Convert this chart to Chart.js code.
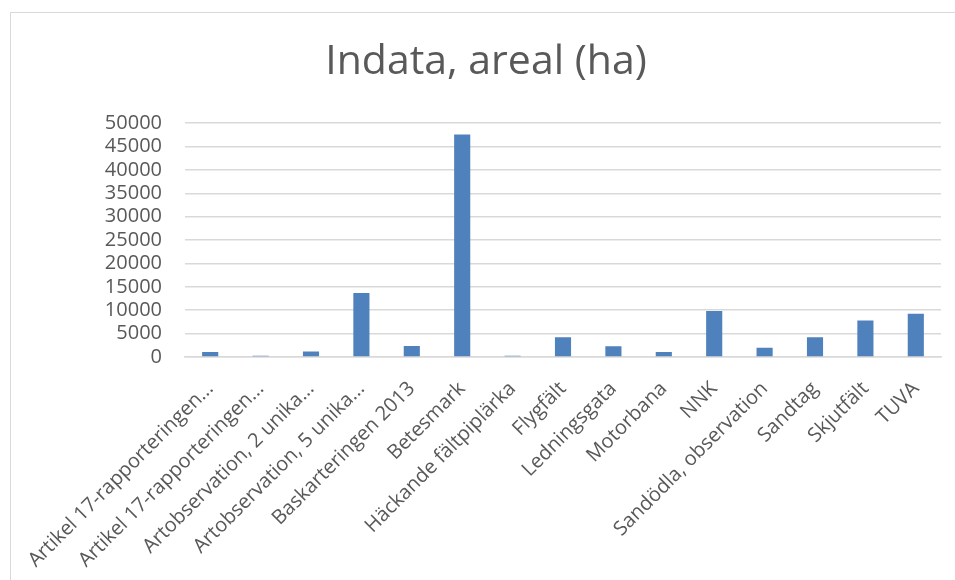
<!DOCTYPE html>
<html>
<head>
<meta charset="utf-8">
<script src="https://cdn.jsdelivr.net/npm/chart.js@4"></script>
<style>
  html, body { margin: 0; padding: 0; background: #fff; overflow: hidden; }
  #wrap { position: relative; width: 955px; height: 580px; }
  #frame { position: absolute; left: 10px; top: 12px; width: 980px; height: 620px; border: 1.5px solid #d9d9d9; }
  canvas { position: absolute; left: 0; top: 0; }
</style>
</head>
<body>
<div id="wrap">
  <div id="frame"></div>
  <canvas id="myChart" width="955" height="580"></canvas>
</div>
<script>
const labels = [
  'Artikel 17-rapporteringen...',
  'Artikel 17-rapporteringen...',
  'Artobservation, 2 unika...',
  'Artobservation, 5 unika...',
  'Baskarteringen 2013',
  'Betesmark',
  'Häckande fältpiplärka',
  'Flygfält',
  'Ledningsgata',
  'Motorbana',
  'NNK',
  'Sandödla, observation',
  'Sandtag',
  'Skjutfält',
  'TUVA'
];

const areal = [1050, 250, 1200, 13700, 2350, 47600, 250, 4250, 2300, 1050, 9850, 2000, 4250, 7800, 9250];

const yTicks = [0, 5000, 10000, 15000, 20000, 25000, 30000, 35000, 40000, 45000, 50000];

const font = "'Open Sans', 'DejaVu Sans', sans-serif";

const data = {
  labels: labels,
  datasets: [
    {
      label: 'Indata, areal (ha)',
      data: areal,
      backgroundColor: '#4f81bd',
      borderWidth: 0,
      barPercentage: 0.32,
      categoryPercentage: 1
    }
  ]
};

const config = {
  type: 'bar',
  data: data,
  options: {
    responsive: false,
    animation: false,
    // left padding pushes the title centre to the right like the original
    layout: { padding: { left: 31, right: 14, top: 0, bottom: 0 } },
    plugins: {
      legend: { display: false },
      tooltip: { enabled: false },
      title: {
        display: true,
        text: 'Indata, areal (ha)',
        color: '#595959',
        font: { family: font, size: 41, weight: 'normal' },
        padding: { top: 38, bottom: 36 }
      }
    },
    scales: {
      x: {
        grid: { display: false, drawTicks: false },
        border: { display: true, color: '#d9d9d9', width: 1.5 },
        ticks: {
          color: '#595959',
          font: { family: font, size: 20 },
          minRotation: 45,
          maxRotation: 45,
          autoSkip: false,
          padding: 20
        },
        afterFit: (scale) => {
          scale.height = 580 - 357;
          scale.paddingLeft = 0;
          scale.paddingRight = 0;
        }
      },
      y: {
        min: 0,
        max: 50000,
        afterBuildTicks: (scale) => {
          scale.ticks = yTicks.map(v => ({ value: v }));
        },
        grid: { color: '#d9d9d9', lineWidth: 1.5, drawTicks: false },
        border: { display: false },
        ticks: {
          color: '#595959',
          font: { family: font, size: 20 },
          padding: 23,
          autoSkip: false,
          callback: (v) => String(v)
        },
        afterFit: (scale) => {
          scale.width = 185 - 31;
        }
      }
    }
  }
};

const myChart = new Chart(
  document.getElementById('myChart'),
  config
);
</script>
</body>
</html>
